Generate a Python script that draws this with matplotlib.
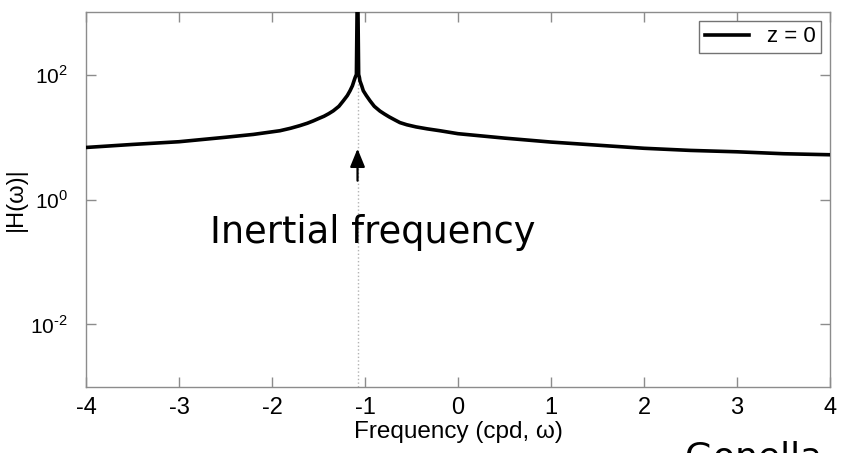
import matplotlib
matplotlib.use("Agg")
import matplotlib.pyplot as plt

plt.rcParams["font.family"] = ["Liberation Sans", "DejaVu Sans"]
plt.rcParams["mathtext.fontset"] = "custom"
plt.rcParams["mathtext.rm"] = "Liberation Sans"
plt.rcParams["axes.unicode_minus"] = False

# values
omega = [-4.0, -3.5, -3.0, -2.5, -2.2, -1.914, -1.80, -1.70, -1.62, -1.556,
         -1.50, -1.44, -1.39, -1.341, -1.28, -1.233, -1.19, -1.161, -1.135,
         -1.118, -1.105, -1.092, -1.08, -1.068, -1.060, -1.054, -1.035, -1.018,
         -0.985, -0.946, -0.90, -0.839, -0.79, -0.74, -0.68, -0.624, -0.55,
         -0.45, -0.33, -0.194, 0.0, 0.5, 1.0, 1.5, 2.0, 2.5, 3.0, 3.5, 4.0]
h_mag = [6.8, 7.6, 8.4, 9.9, 11.0, 12.6, 13.8, 15.2, 16.6, 18.1,
         19.7, 21.5, 23.6, 26.2, 31.0, 37.9, 46.0, 54.8, 66.0,
         79.0, 90.0, 100.0, 5000.0, 100.0, 90.0, 79.0, 66.0, 55.0,
         46.0, 38.0, 31.0, 26.0, 23.3, 21.0, 18.8, 17.0, 15.7,
         14.5, 13.5, 12.6, 11.3, 9.6, 8.3, 7.4, 6.6, 6.1, 5.8, 5.4, 5.2]
f_inertial = -1.08

xticks = [-4, -3, -2, -1, 0, 1, 2, 3, 4]
yticks = [1e-2, 1e0, 1e2]
ytick_labels = [r"$10^{\text{-}2}$", r"$10^{0}$", r"$10^{2}$"]

fig = plt.figure(figsize=(8.42, 4.53), dpi=100)
ax = fig.add_axes([0.1021, 0.1457, 0.8836, 0.8278])

ax.axvline(f_inertial, color="0.7", ls=":", lw=1, zorder=1)
ax.plot(omega, h_mag, color="black", lw=2.6, label="z = 0", zorder=3,
        solid_joinstyle="round")

ax.set_yscale("log")
ax.set_xlim(-4, 4)
ax.set_ylim(1e-3, 1e3)
ax.set_xticks(xticks)
ax.set_xticklabels([str(t) for t in xticks])
ax.set_yticks(yticks)
ax.set_yticklabels(ytick_labels)
ax.minorticks_off()

for s in ax.spines.values():
    s.set_color("0.55")
    s.set_linewidth(1.0)
ax.tick_params(direction="in", length=7, width=1, color="0.55",
               top=True, right=True, labelsize=17)
ax.tick_params(axis="x", pad=7)
ax.tick_params(axis="y", pad=13, labelsize=15)

ax.set_xlabel("Frequency (cpd, ω)", fontsize=17.5, labelpad=2)
ax.set_ylabel("|H(ω)|", fontsize=17)
ax.yaxis.set_label_coords(-0.079, 0.5)

leg = ax.legend(loc="upper right", fontsize=16, handlelength=2.0,
                fancybox=False, framealpha=1, borderaxespad=0.4,
                borderpad=0.25, handletextpad=0.8)
leg.get_frame().set_edgecolor("0.45")
leg.get_frame().set_linewidth(1.0)

ax.annotate("", xy=(f_inertial, 6.5), xytext=(f_inertial, 2.0),
            arrowprops=dict(arrowstyle="-|>,head_width=0.45,head_length=1.1",
                            color="black", lw=1.6, shrinkA=0, shrinkB=0))
ax.text(-0.914, 0.295, "Inertial frequency", family="DejaVu Sans",
        fontsize=26.5, ha="center", va="center")

fig.text(685 / 842, 1 - 440 / 453, "Gonella", family="DejaVu Sans",
         fontsize=26, ha="left", va="top")

fig.savefig("out.png", dpi=100)
plt.close(fig)
